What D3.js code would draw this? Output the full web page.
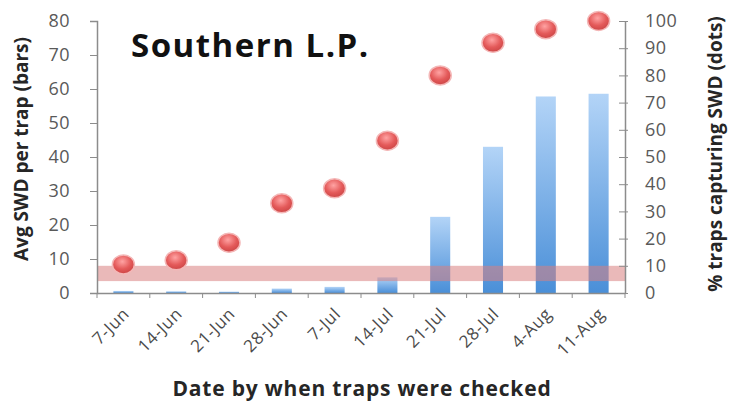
<!DOCTYPE html>
<html lang="en">
<head>
<meta charset="UTF-8">
<title>Southern L.P.</title>
<script src="https://d3js.org/d3.v7.min.js"></script>
<style>
  body { margin: 0; background: #fff; }
  text { font-family: "Open Sans", "DejaVu Sans", sans-serif; }
</style>
</head>
<body>
<div id="chart"></div>
<script>
  // data
  const dates = ["7-Jun", "14-Jun", "21-Jun", "28-Jun", "7-Jul", "14-Jul", "21-Jul", "28-Jul", "4-Aug", "11-Aug"];
  const avgSwd = [0.6, 0.5, 0.4, 1.3, 1.8, 4.6, 22.4, 43, 57.8, 58.6];
  const pctTraps = [10.5, 12, 18.5, 33, 38.5, 56, 80, 92, 97, 100];
  const leftTicks = [0, 10, 20, 30, 40, 50, 60, 70, 80];
  const rightTicks = [0, 10, 20, 30, 40, 50, 60, 70, 80, 90, 100];
  const band = [3.5, 8];

  const W = 729, H = 407;
  const margin = { top: 21, right: 104, bottom: 114, left: 97 };
  const w = W - margin.left - margin.right;
  const h = H - margin.top - margin.bottom;

  const svg = d3.select("#chart").append("svg")
    .attr("width", W).attr("height", H);

  const defs = svg.append("defs");
  const barGrad = defs.append("linearGradient").attr("id", "barGrad")
    .attr("x1", 0).attr("y1", 0).attr("x2", 0).attr("y2", 1);
  barGrad.append("stop").attr("offset", "0%").attr("stop-color", "#b3d4f7");
  barGrad.append("stop").attr("offset", "100%").attr("stop-color", "#4a8fd8");

  const dotGrad = defs.append("radialGradient").attr("id", "dotGrad")
    .attr("cx", "45%").attr("cy", "35%").attr("r", "65%");
  dotGrad.append("stop").attr("offset", "0%").attr("stop-color", "#ffa3a3");
  dotGrad.append("stop").attr("offset", "60%").attr("stop-color", "#e45a5a");
  dotGrad.append("stop").attr("offset", "100%").attr("stop-color", "#cc4646");

  const g = svg.append("g")
    .attr("transform", "translate(" + margin.left + "," + margin.top + ")");

  const x = d3.scaleBand().domain(dates).range([0, w]).paddingInner(0.62).paddingOuter(0.31);
  const xTick = d3.scaleBand().domain(dates).range([0, w]);
  const yL = d3.scaleLinear().domain([0, 80]).range([h, 0]);
  const yR = d3.scaleLinear().domain([0, 100]).range([h, 0]);

  // bars
  g.append("g").selectAll("rect")
    .data(avgSwd)
    .enter()
    .append("rect")
    .attr("x", (d, i) => x(dates[i]))
    .attr("width", x.bandwidth())
    .attr("y", d => yL(d))
    .attr("height", d => h - yL(d))
    .attr("fill", "url(#barGrad)");

  // threshold band
  g.append("rect")
    .attr("x", 0)
    .attr("width", w)
    .attr("y", yL(band[1]))
    .attr("height", yL(band[0]) - yL(band[1]))
    .attr("fill", "#d98080")
    .attr("opacity", 0.55);

  // axes
  const axisColor = "#8c8c8c";
  const labelColor = "#595959";

  const leftAxis = g.append("g")
    .call(d3.axisLeft(yL).tickValues(leftTicks).tickSize(7).tickPadding(20));
  const rightAxis = g.append("g")
    .attr("transform", "translate(" + w + ",0)")
    .call(d3.axisRight(yR).tickValues(rightTicks).tickSize(0).tickPadding(20));
  rightAxis.selectAll(".tick").append("line")
    .attr("x1", -6).attr("x2", 3).attr("stroke", axisColor);
  const bottomAxis = g.append("g")
    .attr("transform", "translate(0," + h + ")")
    .call(d3.axisBottom(xTick).tickSize(0).tickFormat(""));
  bottomAxis.selectAll(".tick").remove();
  bottomAxis.selectAll("line.cat")
    .data(dates.concat(["end"]))
    .enter()
    .append("line")
    .attr("class", "cat")
    .attr("x1", (d, i) => i < dates.length ? xTick(d) : w)
    .attr("x2", (d, i) => i < dates.length ? xTick(d) : w)
    .attr("y1", 0).attr("y2", 5)
    .attr("stroke", axisColor);

  [leftAxis, rightAxis, bottomAxis].forEach(a => {
    a.selectAll(".domain").attr("stroke", axisColor).attr("stroke-width", 1.5);
    a.selectAll(".tick line").attr("stroke", axisColor);
    a.selectAll(".tick text").attr("fill", labelColor).attr("font-size", 18)
      .attr("letter-spacing", 0.5)
      .style("font-family", "Open Sans, sans-serif");
  });

  // x labels, rotated
  g.append("g").selectAll("text")
    .data(dates)
    .enter()
    .append("text")
    .attr("transform", d => "translate(" + (xTick(d) + xTick.bandwidth() / 2 + 7) + "," + (h + 22) + ") rotate(-45)")
    .attr("text-anchor", "end")
    .attr("font-size", 17)
    .attr("letter-spacing", 0.6)
    .attr("fill", "#4a4a4a")
    .text(d => d);

  // dots
  g.append("g").selectAll("ellipse")
    .data(pctTraps)
    .enter()
    .append("ellipse")
    .attr("cx", (d, i) => xTick(dates[i]) + xTick.bandwidth() / 2)
    .attr("cy", d => yR(d))
    .attr("rx", 11)
    .attr("ry", 9.5)
    .attr("fill", "url(#dotGrad)")
    .attr("stroke", "#f4b7b7")
    .attr("stroke-width", 1.5);

  // titles
  svg.append("text")
    .attr("x", 131).attr("y", 57)
    .attr("font-size", 33).attr("font-weight", "bold").attr("fill", "#111")
    .attr("letter-spacing", 1.5)
    .text("Southern L.P.");

  svg.append("text")
    .attr("transform", "translate(28," + (margin.top + h / 2 - 8) + ") rotate(-90)")
    .attr("text-anchor", "middle")
    .attr("font-size", 19).attr("font-weight", "bold").attr("fill", "#262626")
    .text("Avg SWD per trap (bars)");

  svg.append("text")
    .attr("transform", "translate(722," + (margin.top + h / 2 - 3) + ") rotate(-90)")
    .attr("text-anchor", "middle")
    .attr("font-size", 19).attr("font-weight", "bold").attr("fill", "#262626")
    .text("% traps capturing SWD (dots)");

  svg.append("text")
    .attr("x", 362).attr("y", 396)
    .attr("text-anchor", "middle")
    .attr("font-size", 21).attr("font-weight", "bold").attr("fill", "#262626")
    .attr("letter-spacing", 0.8)
    .text("Date by when traps were checked");
</script>
</body>
</html>
